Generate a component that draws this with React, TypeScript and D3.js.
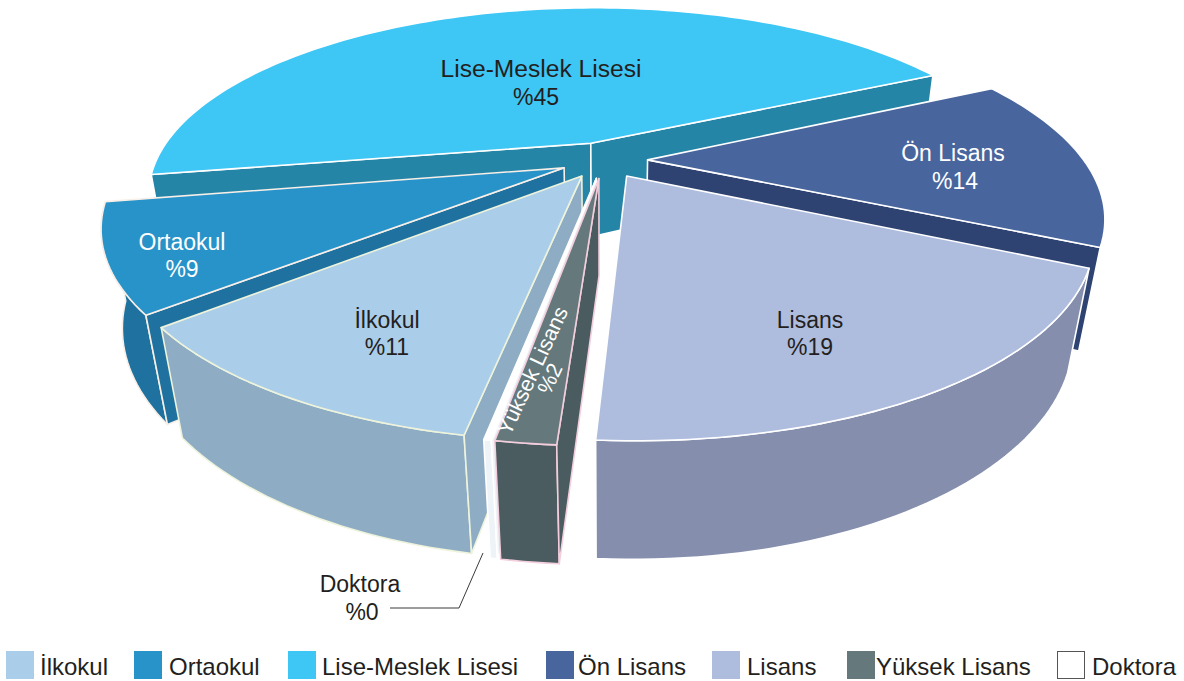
import React from "react";
import * as d3 from "d3";

const categories = ["Lise-Meslek Lisesi", "Ön Lisans", "Lisans", "Yüksek Lisans", "Doktora", "İlkokul", "Ortaokul"];
const shares = [45.5, 14.3, 19.0, 1.6, 0.2, 10.9, 8.5];
const percentLabels = ["%45", "%14", "%19", "%2", "%0", "%11", "%9"];
const topColors = ["#3EC6F5", "#48659E", "#AEBCDE", "#65797D", "#FFFFFF", "#AACDEA", "#2793C8"];
const wallColors = ["#2585A6", "#2E4371", "#858FAD", "#4B5C60", "#EEF3F8", "#8EADC4", "#1F729F"];
const strokeColors = ["#FFFFFF", "#FFFFFF", "#FFFFFF", "#F3CEDC", "#FFFFFF", "#EEF3DC", "#F8EFE8"];
const paintOrder = ["Lise-Meslek Lisesi", "Ön Lisans", "Ortaokul", "Lisans", "İlkokul", "Doktora", "Yüksek Lisans"];

const legendOrder = ["İlkokul", "Ortaokul", "Lise-Meslek Lisesi", "Ön Lisans", "Lisans", "Yüksek Lisans", "Doktora"];
const legendSwatchX = [6, 134, 288, 546, 712, 847, 1057];
const legendTextX = [40, 169, 322, 578, 747, 876, 1092];

const START_DEG = -100;
const EXPLODE = 0.1;
const cx = 604, cy = 160, a = 436, b = 181, p = 0.276, c = 99, q = 0.04;

const project = (X: number, Y: number, Z: number): [number, number] => {
  const w = 1 - p * Y + q * Z;
  return [cx + (a * X) / w, cy + (b * Y + c * Z) / w];
};

const line = d3.line<[number, number]>().x((d) => d[0]).y((d) => d[1]);

const pieGen = d3
  .pie<number>()
  .sort(null)
  .startAngle((START_DEG * Math.PI) / 180)
  .endAngle((START_DEG * Math.PI) / 180 + 2 * Math.PI);

const arcs = pieGen(shares);

function slice(i: number) {
  const { startAngle, endAngle } = arcs[i];
  const mid = (startAngle + endAngle) / 2;
  const ox = EXPLODE * Math.sin(mid);
  const oy = -EXPLODE * Math.cos(mid);
  const n = Math.max(2, Math.ceil((endAngle - startAngle) * 40));
  const angles = d3.range(n + 1).map((k) => startAngle + ((endAngle - startAngle) * k) / n);
  const pt = (t: number, z: number) => project(ox + Math.sin(t), oy - Math.cos(t), z);
  const apex = (z: number) => project(ox, oy, z);
  const topRim = angles.map((t) => pt(t, 0));
  const frontAngles = angles.filter((t) => -Math.cos(t) > -0.12);
  const outerPath =
    frontAngles.length > 1
      ? line([...frontAngles.map((t) => pt(t, 0)), ...frontAngles.slice().reverse().map((t) => pt(t, 1))])! + "Z"
      : null;
  const topPath = line([apex(0), ...topRim])! + "Z";
  const polyA: [number, number][] = [apex(0), pt(startAngle, 0), pt(startAngle, 1), apex(1)];
  const polyB: [number, number][] = [apex(0), pt(endAngle, 0), pt(endAngle, 1), apex(1)];
  // keep only the side walls that turn towards the viewer
  const wallA = d3.polygonArea(polyA) > 0 ? line(polyA)! + "Z" : null;
  const wallB = d3.polygonArea(polyB) < 0 ? line(polyB)! + "Z" : null;
  return { topPath, outerPath, wallA, wallB };
}

const FONT = "'Liberation Sans', Arial, Helvetica, sans-serif";
const TEXT = "#231F20";

const labels: { name: string; x: number; y1: number; y2: number; fill: string; x2?: number; size?: number }[] = [
  { name: "Lise-Meslek Lisesi", x: 541, y1: 77, y2: 105, fill: TEXT, x2: 536, size: 24.6 },
  { name: "Ön Lisans", x: 953, y1: 161, y2: 189, fill: "#FFFFFF", x2: 955 },
  { name: "Lisans", x: 810, y1: 328, y2: 355, fill: TEXT },
  { name: "İlkokul", x: 387, y1: 328, y2: 355, fill: TEXT },
  { name: "Ortaokul", x: 182, y1: 250, y2: 277, fill: "#FFFFFF" },
];

export default function App() {
  return (
    <svg
      width={1184}
      height={681}
      viewBox="0 0 1184 681"
      style={{ position: "absolute", left: 0, top: 0, background: "#fff" }}
      fontFamily={FONT}
    >
      {paintOrder.map((name) => {
        const i = categories.indexOf(name);
        const s = slice(i);
        const common = { stroke: strokeColors[i], strokeWidth: 1.6, strokeLinejoin: "round" as const };
        return (
          <g key={name}>
            {s.outerPath && <path d={s.outerPath} fill={wallColors[i]} {...common} />}
            {s.wallA && <path d={s.wallA} fill={wallColors[i]} {...common} />}
            {s.wallB && <path d={s.wallB} fill={wallColors[i]} {...common} />}
            <path d={s.topPath} fill={topColors[i]} {...common} />
          </g>
        );
      })}

      {labels.map((l) => {
        const i = categories.indexOf(l.name);
        return (
          <g key={l.name} fontSize={23} fill={l.fill} textAnchor="middle">
            <text x={l.x} y={l.y1} fontSize={l.size ?? 23}>{l.name}</text>
            <text x={l.x2 ?? l.x} y={l.y2}>{percentLabels[i]}</text>
          </g>
        );
      })}

      <g transform="translate(542 375) rotate(-65)" fontSize={21.5} fill="#FFFFFF" textAnchor="middle">
        <text x={0} y={-3}>{categories[3]}</text>
        <text x={0} y={16}>{percentLabels[3]}</text>
      </g>

      <g fontSize={23} fill={TEXT} textAnchor="middle">
        <text x={360} y={592}>{categories[4]}</text>
        <text x={362} y={620}>{percentLabels[4]}</text>
      </g>
      <path d="M390 608H459L483 553" fill="none" stroke="#3A3A3A" strokeWidth={1} />

      {legendOrder.map((name, k) => {
        const i = categories.indexOf(name);
        const x = legendSwatchX[k];
        const isWhite = name === "Doktora";
        return (
          <g key={name}>
            <rect
              x={isWhite ? x + 0.5 : x}
              y={isWhite ? 651.5 : 651}
              width={isWhite ? 27 : 28}
              height={isWhite ? 27 : 28}
              fill={topColors[i]}
              stroke={isWhite ? "#555" : "none"}
              strokeWidth={1}
            />
            <text x={legendTextX[k]} y={675} fontSize={24} fill={TEXT}>{name}</text>
          </g>
        );
      })}
    </svg>
  );
}
